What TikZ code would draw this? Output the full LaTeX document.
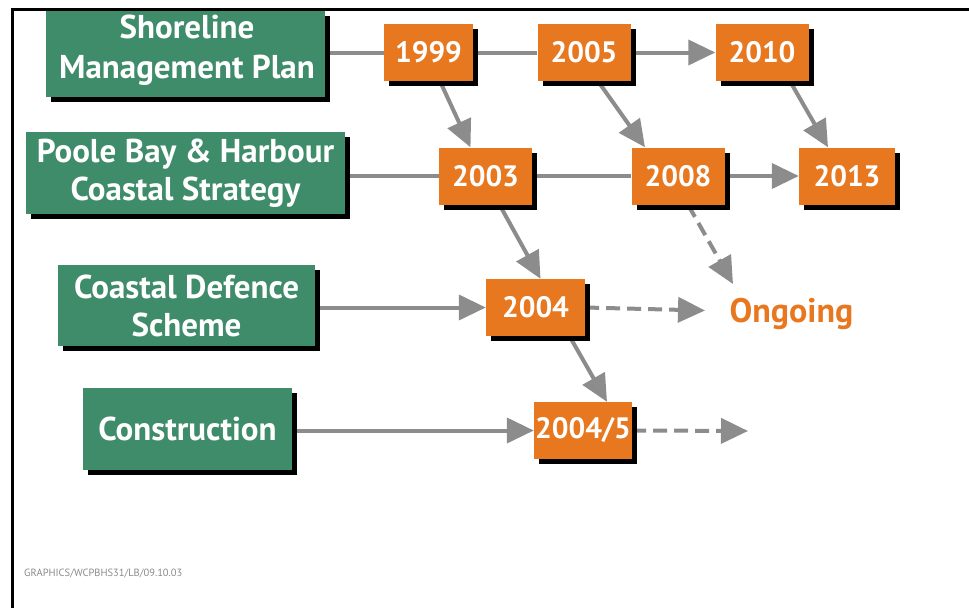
\documentclass[tikz,border=0pt]{standalone}
\usepackage{fontspec}
\setmainfont{PT Sans}
\usetikzlibrary{arrows.meta,shadows,backgrounds}
\definecolor{gbox}{HTML}{3F8C6B}
\definecolor{obox}{HTML}{E8781F}
\definecolor{arr}{HTML}{8C8C8C}
\definecolor{foot}{HTML}{8A8A8A}
\begin{document}
\begin{tikzpicture}[x=1pt,y=-1pt,
  shad/.style={drop shadow={shadow xshift=5pt,shadow yshift=-5pt,fill=black,opacity=1}},
  greenbox/.style={shad,fill=gbox,text=white,inner sep=0pt,align=center,
    font=\fontsize{33}{38}\selectfont\bfseries},
  gtext/.style={text=white,inner sep=0pt,align=center,font=\fontsize{33}{40}\selectfont\bfseries},
  yearbox/.style={shad,fill=obox,text=white,inner sep=0pt,minimum width=93pt,minimum height=57pt,
    font=\fontsize{29.5}{34}\selectfont\bfseries},
  conn/.style={draw=arr,line width=4pt},
  arrowc/.style={conn,-{Triangle[length=27pt,width=25pt]}},
  dashc/.style={arrowc,dash pattern=on 14pt off 7pt}
]
\useasboundingbox (0,0) rectangle (969,608);

% green boxes
\node[greenbox,minimum width=279pt,minimum height=86.5pt] (smp) at (185.5,53.75) {};
\node[gtext] (smptext) at (187,50.5) {Shoreline\\Management Plan};
\node[greenbox,minimum width=319pt,minimum height=82pt] (pbh) at (185.5,173) {Poole Bay \& Harbour\\Coastal Strategy};
\node[greenbox,minimum width=257pt,minimum height=81pt] (cds) at (186.5,305.5) {Coastal Defence\\Scheme};
\node[greenbox,minimum width=209pt,minimum height=82pt] (con) at (187.5,429) {Construction};

% year boxes
\node[yearbox,minimum width=89pt] (y1999) at (428.5,52.5) {1999};
\node[yearbox] (y2005) at (584,52.5) {2005};
\node[yearbox] (y2010) at (762,52.5) {2010};
\node[yearbox] (y2003) at (485.5,176) {2003};
\node[yearbox] (y2008) at (678,176) {2008};
\node[yearbox,minimum width=96pt] (y2013) at (847,176) {2013};
\node[yearbox,minimum width=99pt] (y2004) at (535.5,307.5) {2004};
\node[yearbox,minimum width=98pt] (y20045) at (583,430.5) {2004/5};

\node[text=obox,inner sep=0pt,font=\fontsize{34}{38}\selectfont\bfseries] (ong) at (791.5,314) {Ongoing};

\coordinate (ongin) at (705,310.5);
\coordinate (ongtop) at (733,284);
\coordinate (conend) at (748,431);
\node[text=foot,inner sep=0pt,anchor=west,font=\fontsize{10.5}{11}\selectfont] (foot) at (24,573) {GRAPHICS/WCPBHS31/LB/09.10.03};

\begin{scope}[on background layer]
  % row 1
  \draw[conn] (smp.east |- y1999.west) -- (y1999.west);
  \draw[conn] (y1999.east) -- (y2005.west);
  \draw[arrowc] (y2005.east) -- (y2010.west);
  % row 2
  \draw[conn] (pbh.east |- y2003.west) -- (y2003.west);
  \draw[conn] (y2003.east) -- (y2008.west);
  \draw[arrowc] (y2008.east) -- (y2013.west);
  % row 3
  \draw[arrowc] (cds.east |- y2004.west) -- (y2004.west);
  \draw[dashc] (y2004.east) -- (ongin);
  % row 4
  \draw[arrowc] (con.east |- y20045.west) -- (y20045.west);
  \draw[dashc] (y20045.east) -- (conend);
  % diagonals
  \draw[arrowc] ([xshift=11.5pt]y1999.south) -- ([xshift=-15pt]y2003.north);
  \draw[arrowc] ([xshift=14pt]y2005.south) -- ([xshift=-33pt]y2008.north);
  \draw[arrowc] ([xshift=28pt]y2010.south) -- ([xshift=-19pt]y2013.north);
  \draw[arrowc] ([xshift=14pt]y2003.south) -- ([xshift=5pt]y2004.north);
  \draw[dashc] ([xshift=10pt]y2008.south) -- (ongtop);
  \draw[arrowc] ([xshift=34pt]y2004.south) -- ([xshift=24pt]y20045.north);
\end{scope}

% frame
\draw[line width=3pt,black] (12.5,608) -- (12.5,9) -- (969,9);
\end{tikzpicture}
\end{document}
